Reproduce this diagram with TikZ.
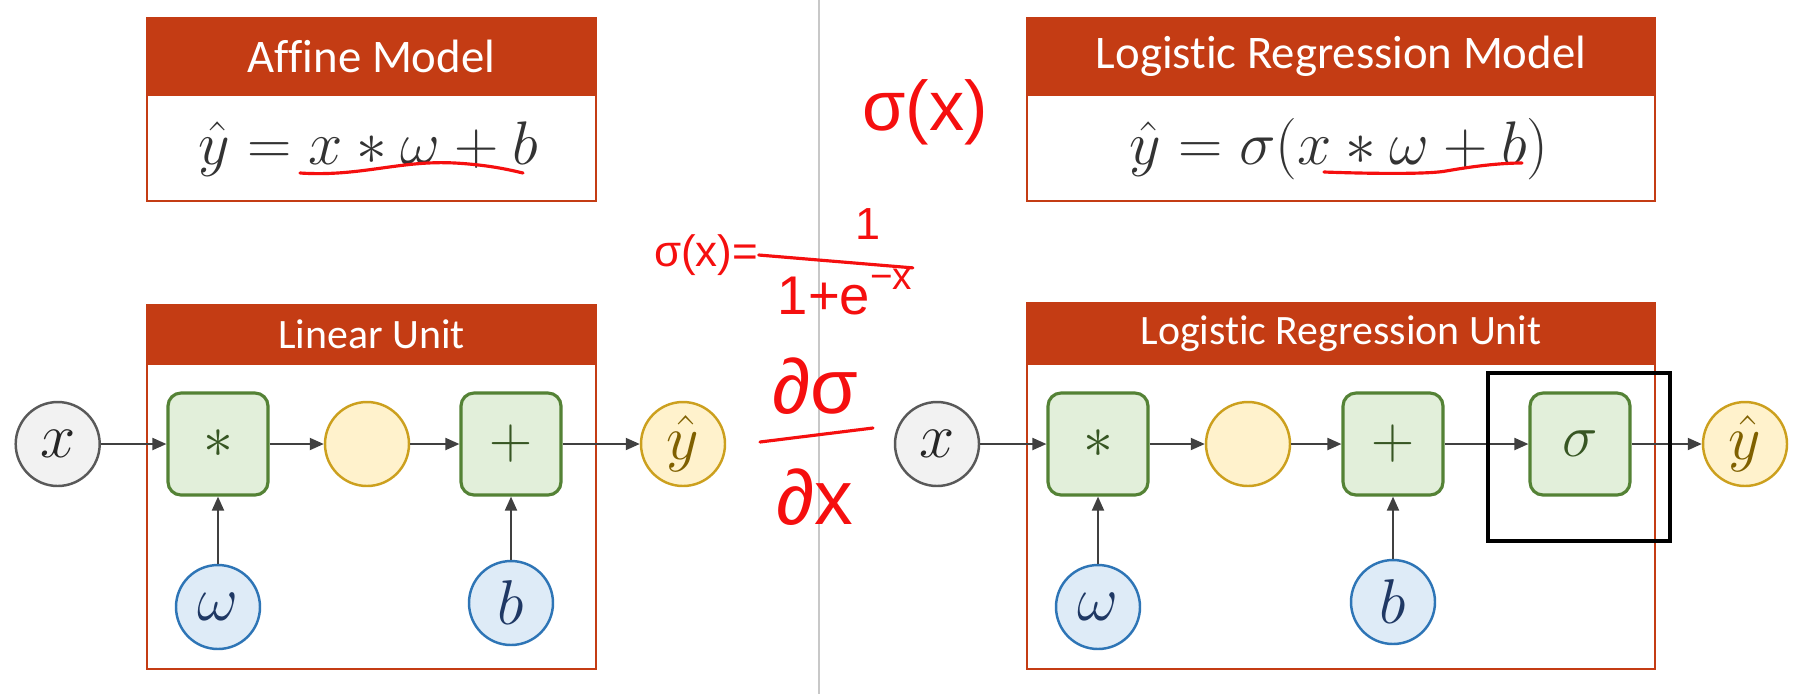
\RequirePackage{fix-cm}
\documentclass[tikz,border=0pt]{standalone}
\usepackage[no-math]{fontspec}
\setmainfont{Carlito}[Ligatures=CommonOff]
\newfontfamily\handfont{Liberation Sans}
\usepackage{amsmath}
\usepackage{xcolor}
\usepackage{tikz}
\usetikzlibrary{arrows.meta,positioning,calc}
\definecolor{headfill}{RGB}{196,60,20}
\definecolor{opfill}{RGB}{226,239,218}
\definecolor{opdraw}{RGB}{84,130,53}
\definecolor{optext}{RGB}{55,86,35}
\definecolor{infill}{RGB}{242,242,242}
\definecolor{indraw}{RGB}{89,89,89}
\definecolor{midfill}{RGB}{255,242,204}
\definecolor{middraw}{RGB}{204,160,30}
\definecolor{midtext}{RGB}{127,96,0}
\definecolor{parfill}{RGB}{222,235,247}
\definecolor{pardraw}{RGB}{46,117,182}
\definecolor{partext}{RGB}{31,56,100}
\definecolor{arrowgray}{RGB}{64,64,64}
\definecolor{divgray}{RGB}{200,200,200}
\definecolor{inkred}{RGB}{245,15,15}
\tikzset{
  unitframe/.style={draw=headfill, line width=0.6pt, fill=white, inner sep=0pt},
  head/.style    ={fill=headfill, text=white, anchor=north, inner sep=0pt},
  eqn/.style     ={text=black!80, inner sep=0pt, font=\fontsize{17.5}{20}\selectfont},
  opbox/.style   ={draw=opdraw, fill=opfill, text=optext, rounded corners=1.3mm, line width=0.9pt,
                   minimum width=10mm, minimum height=10.2mm, inner sep=0pt, font=\fontsize{17}{20}\selectfont},
  innode/.style  ={circle, draw=indraw, fill=infill, text=black!85, line width=0.7pt, minimum size=8.4mm,
                   inner sep=0pt, font=\fontsize{18}{20}\selectfont},
  midnode/.style ={innode, draw=middraw, fill=midfill, text=midtext},
  parnode/.style ={innode, draw=pardraw, fill=parfill, text=partext},
  flow/.style    ={-{Triangle[length=1.4mm,width=1.2mm]}, draw=arrowgray, line width=0.55pt},
  hand/.style    ={text=inkred, inner sep=0pt},
  handline/.style={draw=inkred, line width=0.9pt, line cap=round}
}

\begin{document}
\begin{tikzpicture}[x=0.1mm,y=-0.1mm]
  \useasboundingbox (0,0) rectangle (1808,694);
  \draw[divgray, line width=0.6pt] (819,0) -- (819,694);

  % left half
  \node[unitframe, minimum width=44.9mm, minimum height=18.3mm] (affine) at (371.5,109.5) {};
  \node[head, minimum width=44.9mm, minimum height=7.8mm, font=\fontsize{13.3}{16}\selectfont] (affinehead) at (affine.north) {Affine Model};
  \node[eqn] (affineeq) at (368,149) {$\hat{y}=x*\omega+b$};
  \draw[handline] (300,173) .. controls (360,177) and (400,160) .. (455,163) .. controls (490,165) and (510,170) .. (523,173);

  \node[unitframe, minimum width=44.9mm, minimum height=36.4mm] (linunit) at (371.5,487) {};
  \node[head, minimum width=44.9mm, minimum height=6mm, font=\fontsize{11.9}{14}\selectfont] (linhead) at (linunit.north) {Linear Unit};
  \node[innode]  (lx)   at (57.7,444) {$x$};
  \node[opbox]   (lmul) at (218,444)  {$*$};
  \node[midnode] (lmid) at (367,444)  {};
  \node[opbox]   (ladd) at (511,444)  {$+$};
  \node[midnode] (ly)   at (683,444)  {$\hat{y}$};
  \node[parnode] (lw)   at (218,607)  {$\omega$};
  \node[parnode] (lb)   at (511,603)  {$b$};
  \draw[flow] (lx) -- (lmul);
  \draw[flow] (lmul) -- (lmid);
  \draw[flow] (lmid) -- (ladd);
  \draw[flow] (ladd) -- (ly);
  \draw[flow] (lw) -- (lmul);
  \draw[flow] (lb) -- (ladd);

  % right half
  \node[unitframe, minimum width=62.8mm, minimum height=18.3mm] (logmodel) at (1341,109.5) {};
  \node[head, minimum width=62.8mm, minimum height=7.8mm, font=\fontsize{13.3}{16}\selectfont] (logmodelhead) at (logmodel.north) {Logistic Regression Model};
  \node[eqn] (logeq) at (1339,149) {$\hat{y}=\sigma(x*\omega+b)$};
  \draw[handline] (1324,172) .. controls (1380,174) and (1430,174) .. (1446,171) .. controls (1480,165) and (1505,163) .. (1522,163);

  \node[unitframe, minimum width=62.8mm, minimum height=36.6mm] (logunit) at (1341,486) {};
  \node[head, minimum width=62.8mm, minimum height=6.2mm, font=\fontsize{11.9}{14}\selectfont] (logunithead) at (logunit.north) {Logistic Regression Unit};
  \node[innode]  (rx)   at (937,444)  {$x$};
  \node[opbox]   (rmul) at (1098,444) {$*$};
  \node[midnode] (rmid) at (1248,444) {};
  \node[opbox]   (radd) at (1393,444) {$+$};
  \node[opbox]   (rsig) at (1580,444) {$\sigma$};
  \node[midnode] (ry)   at (1745,444) {$\hat{y}$};
  \node[parnode] (rw)   at (1098,607) {$\omega$};
  \node[parnode] (rb)   at (1393,602) {$b$};
  \draw[flow] (rx) -- (rmul);
  \draw[flow] (rmul) -- (rmid);
  \draw[flow] (rmid) -- (radd);
  \draw[flow] (radd) -- (rsig);
  \draw[flow] (rsig) -- (ry);
  \draw[flow] (rw) -- (rmul);
  \draw[flow] (rb) -- (radd);
  \node[draw=black, line width=1.4pt, minimum width=18.2mm, minimum height=16.8mm] (focus) at (1579,457) {};

  % handwritten notes
  \node[hand, font=\handfont\fontsize{20}{24}\selectfont] (sigx) at (925,112) {σ(x)};
  \node[hand, font=\handfont\fontsize{12.5}{14}\selectfont] (sigeq) at (706,255) {σ(x)=};
  \node[hand, font=\handfont\fontsize{12.8}{15}\selectfont] (one) at (868,224) {1};
  \node[hand, font=\handfont\fontsize{15.5}{18}\selectfont] (den) at (845,292) {1+e\raisebox{0.9ex}{\fontsize{11}{13}\selectfont −x}};
  \draw[handline] (sigeq.east) -- (den.north east);
  \node[hand, font=\handfont\fontsize{22}{26}\selectfont] (dsig) at (815,386) {∂σ};
  \node[hand, font=\handfont\fontsize{22}{26}\selectfont] (dx) at (815,497) {∂x};
  \draw[handline] (760,442) -- (873,428);
\end{tikzpicture}
\end{document}
